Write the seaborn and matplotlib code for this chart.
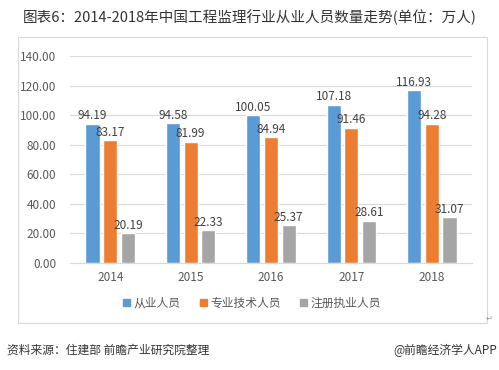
import matplotlib
matplotlib.use("Agg")
import matplotlib.pyplot as plt
import seaborn as sns
import pandas as pd
from matplotlib.patches import Rectangle

years = ["2014", "2015", "2016", "2017", "2018"]
series = ["从业人员", "专业技术人员", "注册执业人员"]
employees = [94.19, 94.58, 100.05, 107.18, 116.93]
technical = [83.17, 81.99, 84.94, 91.46, 94.28]
registered = [20.19, 22.33, 25.37, 28.61, 31.07]
colors = ["#5B9BD5", "#ED7D31", "#A5A5A5"]

df = pd.DataFrame({
    "year": years * 3,
    "type": [series[0]] * 5 + [series[1]] * 5 + [series[2]] * 5,
    "value": employees + technical + registered,
})

sns.set_style("white")
plt.rcParams["font.family"] = ["Noto Sans CJK SC", "DejaVu Sans"]

fig = plt.figure(figsize=(4.99, 3.70), dpi=100)
ax = fig.add_axes([70 / 499, 1 - 263 / 370, 402 / 499, 207 / 370])

sns.barplot(data=df, x="year", y="value", hue="type", palette=colors,
            width=0.66, gap=0.2, saturation=1, ax=ax, legend=False)

for c in ax.containers:
    ax.bar_label(c, fmt="%.2f", fontsize=8.5, color="#404040", padding=1)

ax.set_ylim(0, 140)
ax.set_yticks(range(0, 141, 20))
ax.set_yticklabels([f"{v:.2f}" for v in range(0, 141, 20)])
ax.yaxis.grid(True, color="#D9D9D9", lw=0.8)
ax.set_axisbelow(True)
for s in ["top", "right", "left"]:
    ax.spines[s].set_visible(False)
ax.spines["bottom"].set_color("#D9D9D9")
ax.tick_params(axis="both", length=0, labelsize=8.5, colors="#595959")
ax.tick_params(axis="y", pad=10)
ax.tick_params(axis="x", pad=6)
ax.set_xlabel("")
ax.set_ylabel("")

# legend
handles = [Rectangle((0, 0), 1, 1, color=c) for c in colors]
fig.legend(handles, series, loc="center", bbox_to_anchor=(252 / 499, 1 - 303 / 370),
           ncol=3, frameon=False, fontsize=8.5, handlelength=0.6, handleheight=0.6,
           handletextpad=0.3, columnspacing=1.6, labelcolor="#595959")

# chart border
fig.patches.append(Rectangle((18 / 499, 1 - 323 / 370), 469 / 499, 286 / 370,
                             transform=fig.transFigure, fill=False,
                             edgecolor="#D9D9D9", lw=0.8))

fig.text(250 / 499, 1 - 17 / 370, "图表6：2014-2018年中国工程监理行业从业人员数量走势(单位：万人)",
         ha="center", va="center", fontsize=10.5, color="#333333")
fig.text(7 / 499, 1 - 350 / 370, "资料来源：住建部 前瞻产业研究院整理",
         ha="left", va="center", fontsize=8.5, color="#333333")
fig.text(497 / 499, 1 - 350 / 370, "@前瞻经济学人APP",
         ha="right", va="center", fontsize=8.5, color="#333333")
fig.text(489 / 499, 1 - 318 / 370, "↵", ha="center", va="center",
         fontsize=6, color="#999999", family=["DejaVu Sans"])

fig.savefig("out.png", dpi=100)
